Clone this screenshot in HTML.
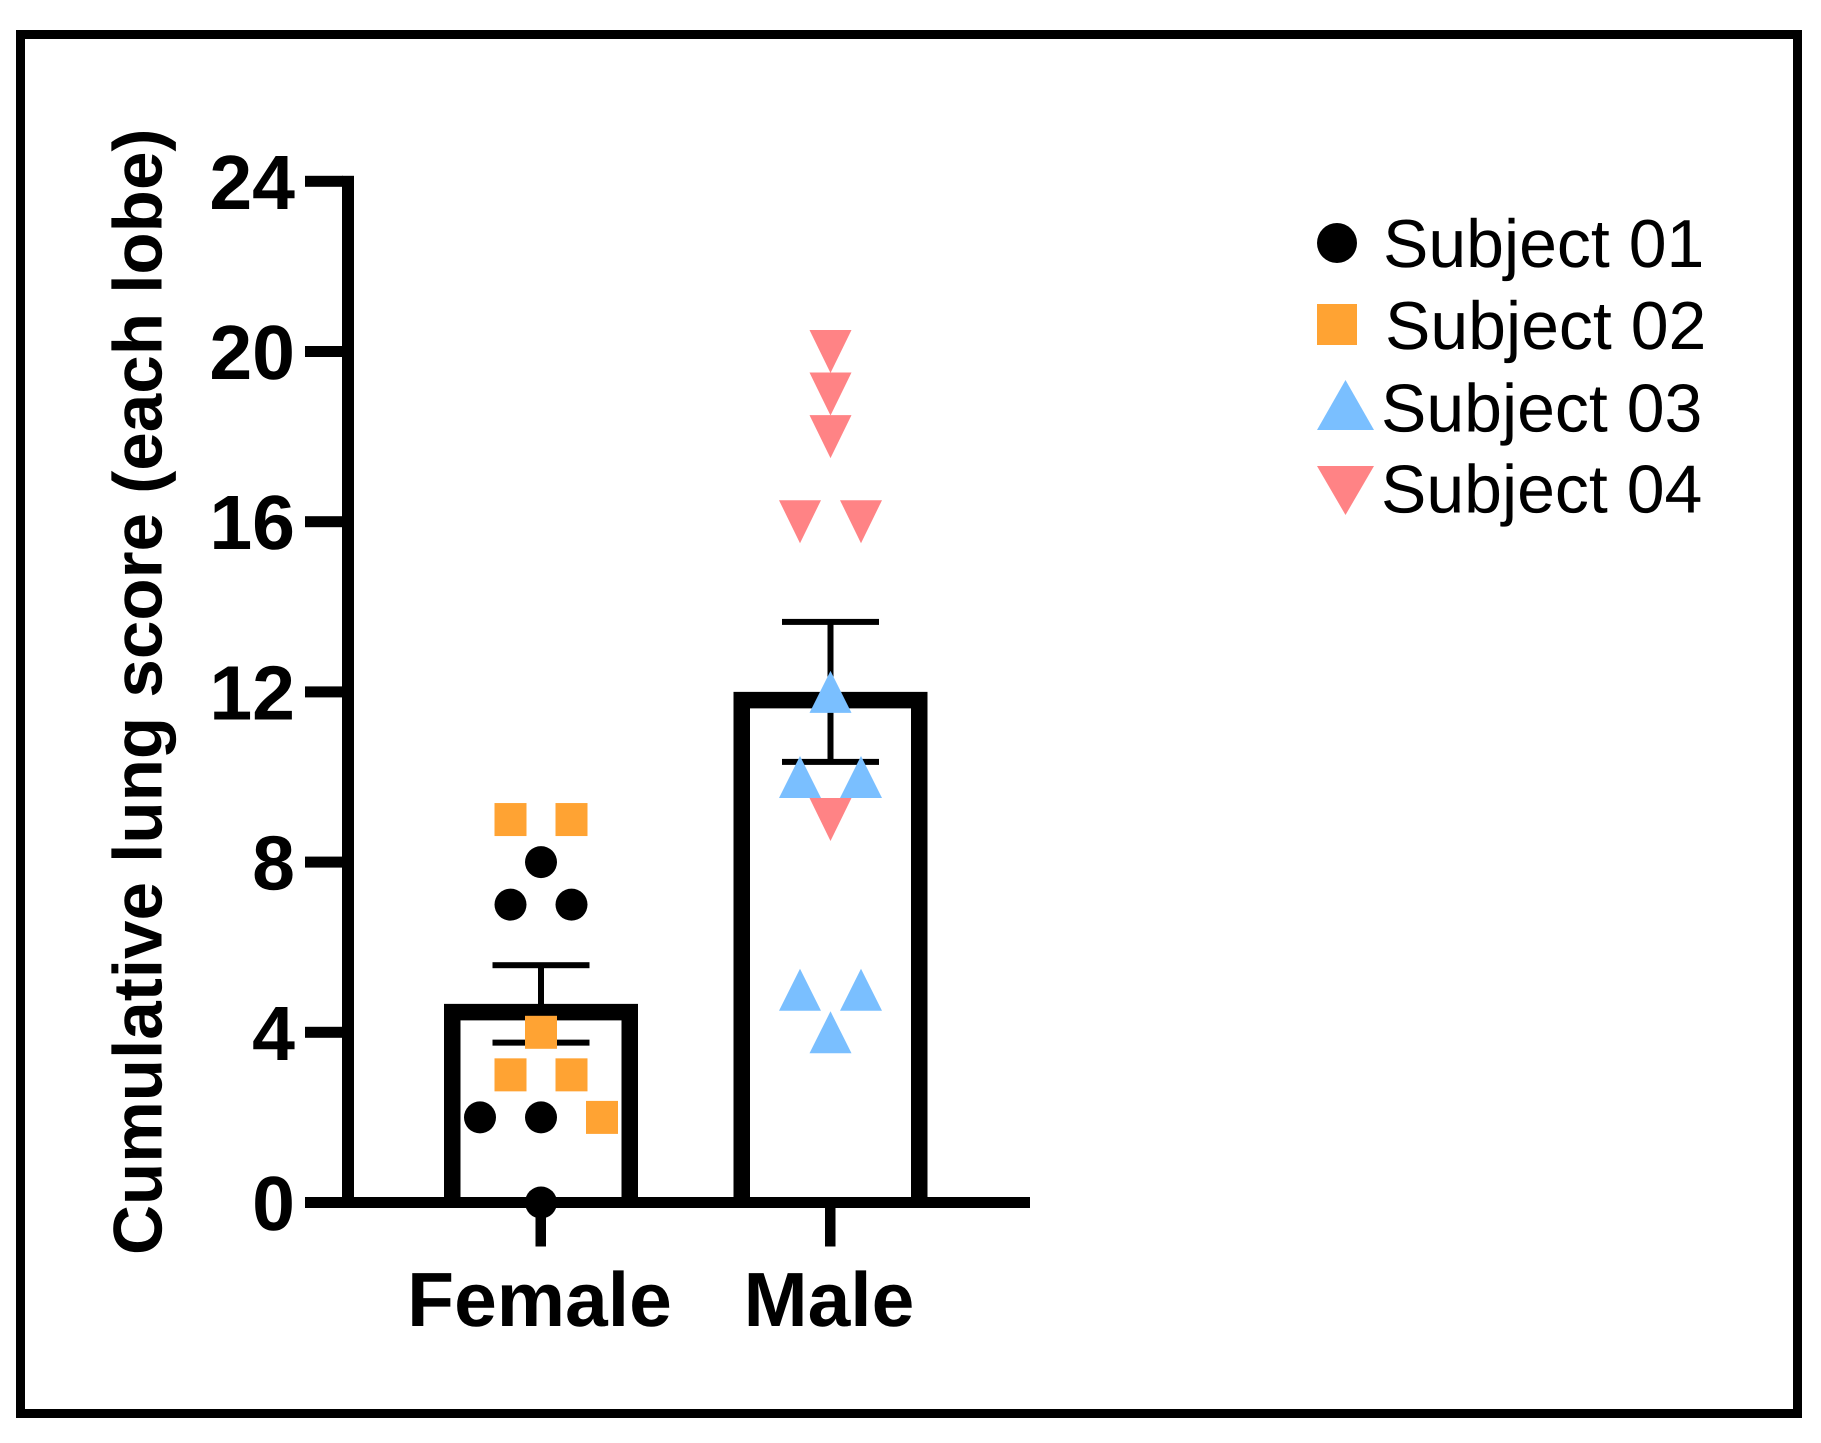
<!DOCTYPE html>
<html lang="en">
<head>
<meta charset="utf-8">
<title>Cumulative lung score</title>
<style>
html,body{margin:0;padding:0;background:#fff;}
svg{display:block;}
text{font-family:"Liberation Sans",Arial,sans-serif;fill:#000;text-rendering:geometricPrecision;}
.bold{font-weight:700;}
</style>
</head>
<body>
<svg id="chart" xmlns="http://www.w3.org/2000/svg" width="1821" height="1443" viewBox="0 0 1821 1443">
  <rect x="0" y="0" width="1821" height="1443" fill="#fff"/>
  <rect x="20.5" y="34.5" width="1777" height="1379" fill="none" stroke="#000" stroke-width="9"/>
  <text class="bold" transform="translate(161.5 1255) rotate(-90)" font-size="69.2">Cumulative lung score (each lobe)</text>
  <g id="bars"></g>
  <g id="errors"></g>
  <g id="axes"></g>
  <g id="points"></g>
  <g>
    <g>
      <circle cx="1337" cy="243" r="20" fill="#000"/>
      <text x="1383" y="267" font-size="68">Subject 01</text>
    </g>
    <g>
      <rect x="1317" y="304" width="40" height="41" fill="#FFA333"/>
      <text x="1385" y="349" font-size="68">Subject 02</text>
    </g>
    <g>
      <polygon points="1317,430 1374,430 1345.5,380" fill="#7ABFFF"/>
      <text x="1381" y="431.5" font-size="68">Subject 03</text>
    </g>
    <g>
      <polygon points="1317,466 1374,466 1345.5,515" fill="#FF8385"/>
      <text x="1381" y="512.5" font-size="68">Subject 04</text>
    </g>
  </g>
</svg>
<script>
const categories = ['Female', 'Male'];
const barMeans = [4.667, 12];
const barSems = [0.91, 1.645];
const yTickValues = [0, 4, 8, 12, 16, 20, 24];
const yTickLabels = ['0', '4', '8', '12', '16', '20', '24'];
const subject01Female = [0, 2, 2, 7, 7, 8];
const subject02Female = [2, 3, 3, 4, 9, 9];
const subject03Male = [4, 5, 5, 10, 10, 12];
const subject04Male = [9, 16, 16, 18, 19, 20];

const NS = 'http://www.w3.org/2000/svg';
const yBase = 1202.5;
const yUnit = 42.55;
const xCenters = [541, 830.5];
const slotWidth = 30.5;
function yScale(v) { return yBase - v * yUnit; }
function xScale(i) { return xCenters[i]; }
function make(tag, attrs, parent) {
  const el = document.createElementNS(NS, tag);
  for (const k in attrs) el.setAttribute(k, attrs[k]);
  parent.appendChild(el);
  return el;
}

const barsG = document.getElementById('bars');
const errorsG = document.getElementById('errors');
const axesG = document.getElementById('axes');
const pointsG = document.getElementById('points');

categories.forEach(function (cat, i) {
  const cx = xScale(i);
  const top = yScale(barMeans[i]);
  const half = 97, sw = 16.5;
  const d = 'M' + (cx - half + sw / 2) + ' ' + yBase +
    ' V' + (top + sw / 2) +
    ' H' + (cx + half - sw / 2) +
    ' V' + yBase;
  const bar = make('path', { d: d, fill: 'none', stroke: '#000', 'stroke-width': sw, 'stroke-linejoin': 'miter' }, barsG);
  
  

  const hi = yScale(barMeans[i] + barSems[i]);
  const lo = yScale(barMeans[i] - barSems[i]);
  const stem = make('rect', { x: cx - 3, y: hi, width: 6, height: lo - hi, fill: '#000' }, errorsG);
  
  
  const capHi = make('rect', { x: cx - 48.5, y: hi - 3, width: 97, height: 6, fill: '#000' }, errorsG);
  
  
  const capLo = make('rect', { x: cx - 48.5, y: lo - 3, width: 97, height: 6, fill: '#000' }, errorsG);
  
  

  const tick = make('rect', { x: cx - 5.5, y: yBase, width: 10.5, height: 44, fill: '#000' }, axesG);
  
  
  const label = make('text', { x: cx - 1.5, y: 1326, 'text-anchor': 'middle', 'font-size': 76.8, 'class': 'bold' }, axesG);
  label.textContent = cat;
  
  
});

const xAxis = make('rect', { x: 342, y: yBase - 5.5, width: 688, height: 11, fill: '#000' }, axesG);


const yAxis = make('rect', { x: 342, y: yScale(24) - 5.5, width: 12, height: yBase - yScale(24) + 11, fill: '#000' }, axesG);



yTickValues.forEach(function (v, i) {
  const y = yScale(v);
  const tick = make('rect', { x: 305, y: y - 5.5, width: 38, height: 11, fill: '#000' }, axesG);
  
  
  const label = make('text', { x: 295, y: y + 27.5, 'text-anchor': 'end', 'font-size': 77, 'class': 'bold' }, axesG);
  label.textContent = yTickLabels[i];
  
  
});

function drawCircle(x, y, name) {
  const el = make('circle', { cx: x, cy: y, r: 16, fill: '#000' }, pointsG);
  
  
}
function drawSquare(x, y, name) {
  const el = make('rect', { x: x - 16, y: y - 16.5, width: 32, height: 33, fill: '#FFA333' }, pointsG);
  
  
}
function drawUp(x, y, name) {
  const pts = (x - 21) + ',' + (y + 21) + ' ' + (x + 21) + ',' + (y + 21) + ' ' + x + ',' + (y - 21);
  const el = make('polygon', { points: pts, fill: '#7ABFFF' }, pointsG);
  
  
}
function drawDown(x, y, name) {
  const pts = (x - 21) + ',' + (y - 21.5) + ' ' + (x + 21) + ',' + (y - 21.5) + ' ' + x + ',' + (y + 21.5);
  const el = make('polygon', { points: pts, fill: '#FF8385' }, pointsG);
  
  
}

/* Points sharing a value within a category spread symmetrically around the centre. */
function drawSwarm(catIndex, seriesList) {
  const all = [];
  seriesList.forEach(function (s) {
    s.values.forEach(function (v) { all.push({ v: v, draw: s.draw, name: s.name }); });
  });
  const seen = {};
  all.forEach(function (p) { seen[p.v] = (seen[p.v] || 0) + 1; });
  const used = {};
  all.forEach(function (p) {
    const n = seen[p.v];
    const k = used[p.v] || 0;
    used[p.v] = k + 1;
    const slot = -(n - 1) + 2 * k;
    p.draw(xScale(catIndex) + slot * slotWidth, yScale(p.v), p.name + '-point-' + p.v + '-' + (k + 1));
  });
}
drawSwarm(0, [
  { values: subject01Female, draw: drawCircle, name: 'subject-01' },
  { values: subject02Female, draw: drawSquare, name: 'subject-02' }
]);
drawSwarm(1, [
  { values: subject03Male, draw: drawUp, name: 'subject-03' },
  { values: subject04Male, draw: drawDown, name: 'subject-04' }
]);
</script>
</body>
</html>
